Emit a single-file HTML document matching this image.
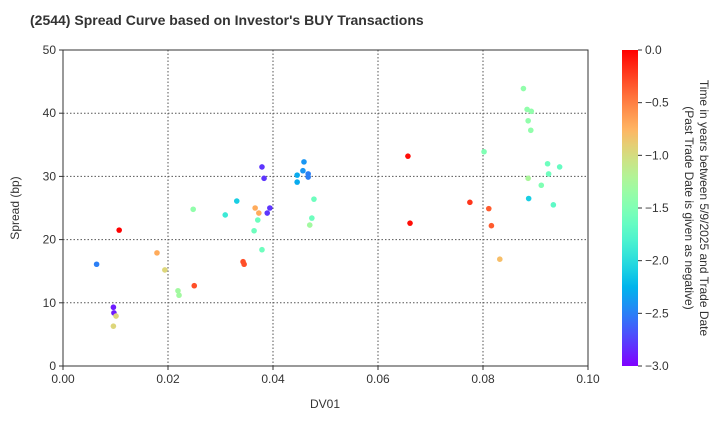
<!DOCTYPE html>
<html><head><meta charset="utf-8"><style>
body{margin:0;background:#fff;}
svg{font-family:"Liberation Sans",Arial,sans-serif;}
</style></head><body>
<svg id="chart" width="720" height="420" viewBox="0 0 720 420" xmlns="http://www.w3.org/2000/svg">
<defs>
<linearGradient id="rb" x1="0" y1="1" x2="0" y2="0"></linearGradient>
</defs>
<text x="30" y="25" font-size="14" font-weight="bold" fill="#333">(2544)   Spread Curve based on Investor's BUY Transactions</text>
<g id="grid"></g>
<g id="axes"></g>
<g id="pts"></g>
<rect x="63" y="50" width="525" height="316" fill="none" stroke="#333" stroke-width="1"/>
<text x="325" y="408" font-size="12" text-anchor="middle" fill="#333">DV01</text>
<text transform="translate(19,208) rotate(-90)" font-size="12" text-anchor="middle" fill="#333">Spread (bp)</text>
<rect x="622" y="50" width="16" height="316" fill="url(#rb)"/>
<g id="cbticks"></g>
<text transform="translate(700,208) rotate(90)" font-size="12" text-anchor="middle" fill="#333">Time in years between 5/9/2025 and Trade Date</text>
<text transform="translate(685,208) rotate(90)" font-size="12" text-anchor="middle" fill="#333">(Past Trade Date is given as negative)</text>
</svg>
<script>
const xTicks=[0,0.02,0.04,0.06,0.08,0.10];
const xTickLabels=["0.00","0.02","0.04","0.06","0.08","0.10"];
const yTicks=[0,10,20,30,40,50];
const cTicks=[0,-0.5,-1,-1.5,-2,-2.5,-3];
const cTickLabels=["0.0","\u22120.5","\u22121.0","\u22121.5","\u22122.0","\u22122.5","\u22123.0"];
const dv01=[.0064,.0096,.0097,.0101,.0096,.0107,.0179,.0194,.0219,.0221,.0250,.0248,.0309,.0331,.0366,.0373,.0371,.0364,.0379,.0343,.0345,.0379,.0383,.0394,.0389,.0459,.0457,.0446,.0446,.0467,.0467,.0478,.0474,.0470,.0657,.0661,.0877,.0884,.0892,.0886,.0891,.0802,.0923,.0946,.0925,.0886,.0911,.0887,.0934,.0775,.0811,.0816,.0832];
const spread=[16.1,9.3,8.4,7.9,6.3,21.5,17.9,15.2,11.9,11.2,12.7,24.8,23.9,26.1,25.0,24.2,23.1,21.4,18.4,16.5,16.1,31.5,29.7,25.0,24.2,32.3,30.9,30.2,29.1,30.4,29.9,26.4,23.4,22.3,33.2,22.6,43.9,40.6,40.3,38.8,37.3,33.9,32.0,31.5,30.4,29.7,28.6,26.5,25.5,25.9,24.9,22.2,16.9];
const years=[-2.5,-2.9,-2.9,-0.95,-0.95,0,-0.7,-0.95,-1.3,-1.3,-0.3,-1.4,-1.9,-2.1,-0.7,-0.7,-1.6,-1.6,-1.6,-0.3,-0.3,-2.8,-2.8,-2.8,-2.8,-2.4,-2.4,-2.3,-2.3,-2.5,-2.5,-1.6,-1.6,-1.3,-0.05,-0.05,-1.4,-1.4,-1.4,-1.4,-1.4,-1.5,-1.6,-1.65,-1.6,-1.25,-1.5,-2.1,-1.7,-0.2,-0.35,-0.35,-0.8];
const NS="http://www.w3.org/2000/svg";
const X0=63,X1=588,Y0=366,Y1=50;
const xs=v=>X0+(v-0)/(0.1)*(X1-X0);
const ys=v=>Y0-(v/50)*(Y0-Y1);
const cs=v=>Y0-((v+3)/3)*(Y0-Y1);
function rainbow(t){const c=x=>Math.max(0,Math.min(1,x));
const r=c(Math.abs(2*t-0.5)),g=c(Math.sin(Math.PI*t)),b=c(Math.cos(Math.PI*t/2));
return `rgb(${Math.round(r*255)},${Math.round(g*255)},${Math.round(b*255)})`;}
function mk(tag,attrs,parent){const e=document.createElementNS(NS,tag);for(const k in attrs)e.setAttribute(k,attrs[k]);parent.appendChild(e);return e;}
const grad=document.getElementById('rb');
for(let i=0;i<=20;i++){const s=mk('stop',{offset:(i/20),'stop-color':rainbow(i/20)},grad);

}
const grid=document.getElementById('grid'),axes=document.getElementById('axes');
xTicks.forEach((v,i)=>{const x=xs(v);
if(i>0&&i<xTicks.length-1){const l=mk('line',{x1:x,x2:x,y1:Y1,y2:Y0,stroke:'#555','stroke-dasharray':'1.5,2','stroke-width':1},grid);

}
const t=mk('line',{x1:x,x2:x,y1:Y0,y2:Y0+4,stroke:'#333'},axes);


const tx=mk('text',{x:x,y:Y0+17,'font-size':12,'text-anchor':'middle',fill:'#333'},axes);tx.textContent=xTickLabels[i];

});
yTicks.forEach((v,i)=>{const y=ys(v);
if(i>0&&i<yTicks.length-1){const l=mk('line',{x1:X0,x2:X1,y1:y,y2:y,stroke:'#555','stroke-dasharray':'1.5,2','stroke-width':1},grid);

}
const t=mk('line',{x1:X0-4,x2:X0,y1:y,y2:y,stroke:'#333'},axes);


const tx=mk('text',{x:X0-7,y:y+4,'font-size':12,'text-anchor':'end',fill:'#333'},axes);tx.textContent=String(v);

});
const cb=document.getElementById('cbticks');
cTicks.forEach((v,i)=>{const y=cs(v);
const t=mk('line',{x1:638,x2:642,y1:y,y2:y,stroke:'#333'},cb);


const tx=mk('text',{x:645,y:y+4,'font-size':12,fill:'#333'},cb);tx.textContent=cTickLabels[i];

});
const pts=document.getElementById('pts');
dv01.forEach((v,i)=>{const c=mk('circle',{cx:xs(v),cy:ys(spread[i]),r:2.8,fill:rainbow((years[i]+3)/3)},pts);

});
</script>
</body></html>
